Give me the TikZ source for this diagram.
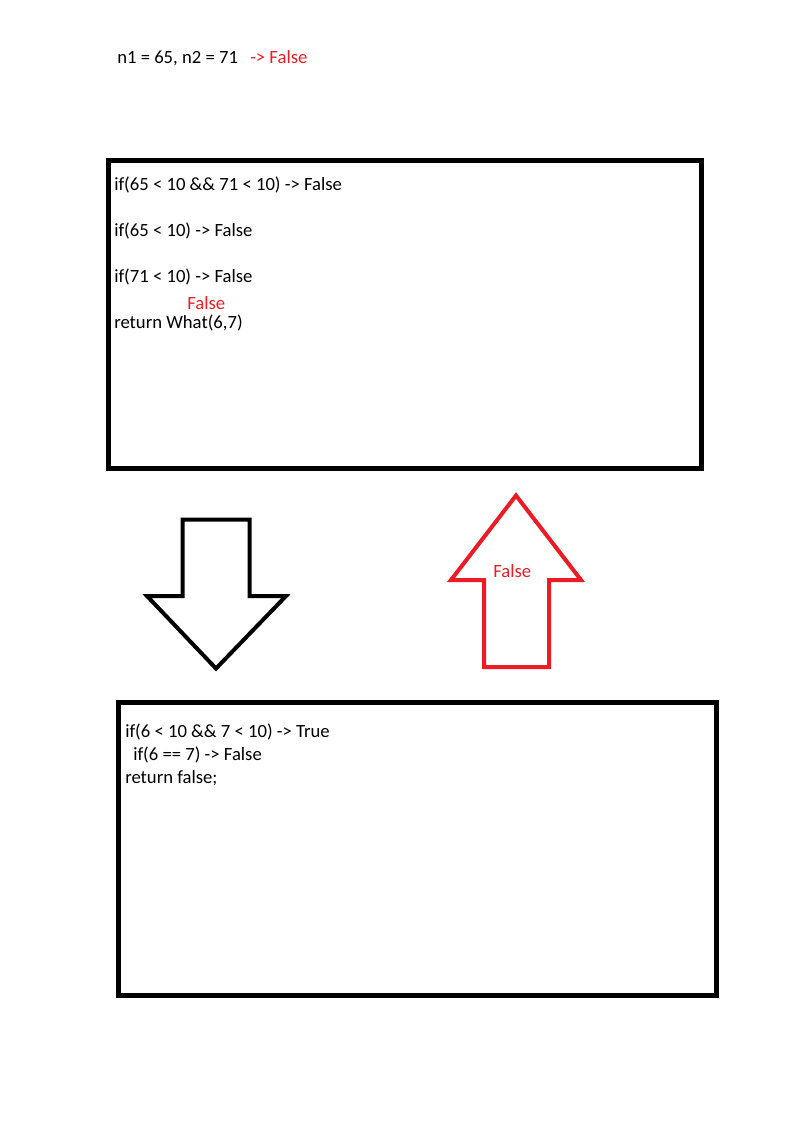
\documentclass[tikz,border=0pt]{standalone}
\usepackage{fontspec}
\setmainfont{Carlito}
\definecolor{paintred}{RGB}{237,28,36}
\tikzset{
  txt/.style={anchor=base west, inner sep=0pt, font=\fontsize{14}{16}\selectfont},
  redtxt/.style={txt, text=paintred},
  frame/.style={line width=3.75pt, line join=miter},
  bigarrow/.style={line width=3pt, line join=miter},
}
\begin{document}
\begin{tikzpicture}[x=0.75pt,y=0.75pt,yscale=-1,xscale=1]
\useasboundingbox (0,0) rectangle (808,1128);

\draw (117,63) node [txt] (vals) {n1 = 65, n2 = 71};
\draw (250,63) node [redtxt] (valsres) {-> False};

% outer call
\draw [frame] (108.5,160.5) rectangle (701.5,468.5);
\draw (114,190.5) node [txt] (both) {if(65 < 10 \&\& 71 < 10) -> False};
\draw (114,236.5) node [txt] (first) {if(65 < 10) -> False};
\draw (114,282.5) node [txt] (second) {if(71 < 10) -> False};
\draw (187,309.5) node [redtxt] (retres) {False};
\draw (114,328.5) node [txt] (ret) {return What(6,7)};

% arrows
\draw [bigarrow] (182.5,519.5) -- (249.5,519.5) -- (249.5,596) -- (286,596) -- (216,668.5) -- (147,596) -- (182.5,596) -- cycle;
\draw [bigarrow, paintred] (484,667) -- (549,667) -- (549,580) -- (581,580) -- (516,495.5) -- (451,580) -- (484,580) -- cycle;
\draw (493,577) node [redtxt] (upres) {False};

% inner call
\draw [frame] (118.5,702.5) rectangle (716.5,995.5);
\draw (125,737) node [txt] (both2) {if(6 < 10 \&\& 7 < 10) -> True};
\draw (133,760) node [txt] (eq) {if(6 == 7) -> False};
\draw (125,783) node [txt] (ret2) {return false;};

\end{tikzpicture}
\end{document}
